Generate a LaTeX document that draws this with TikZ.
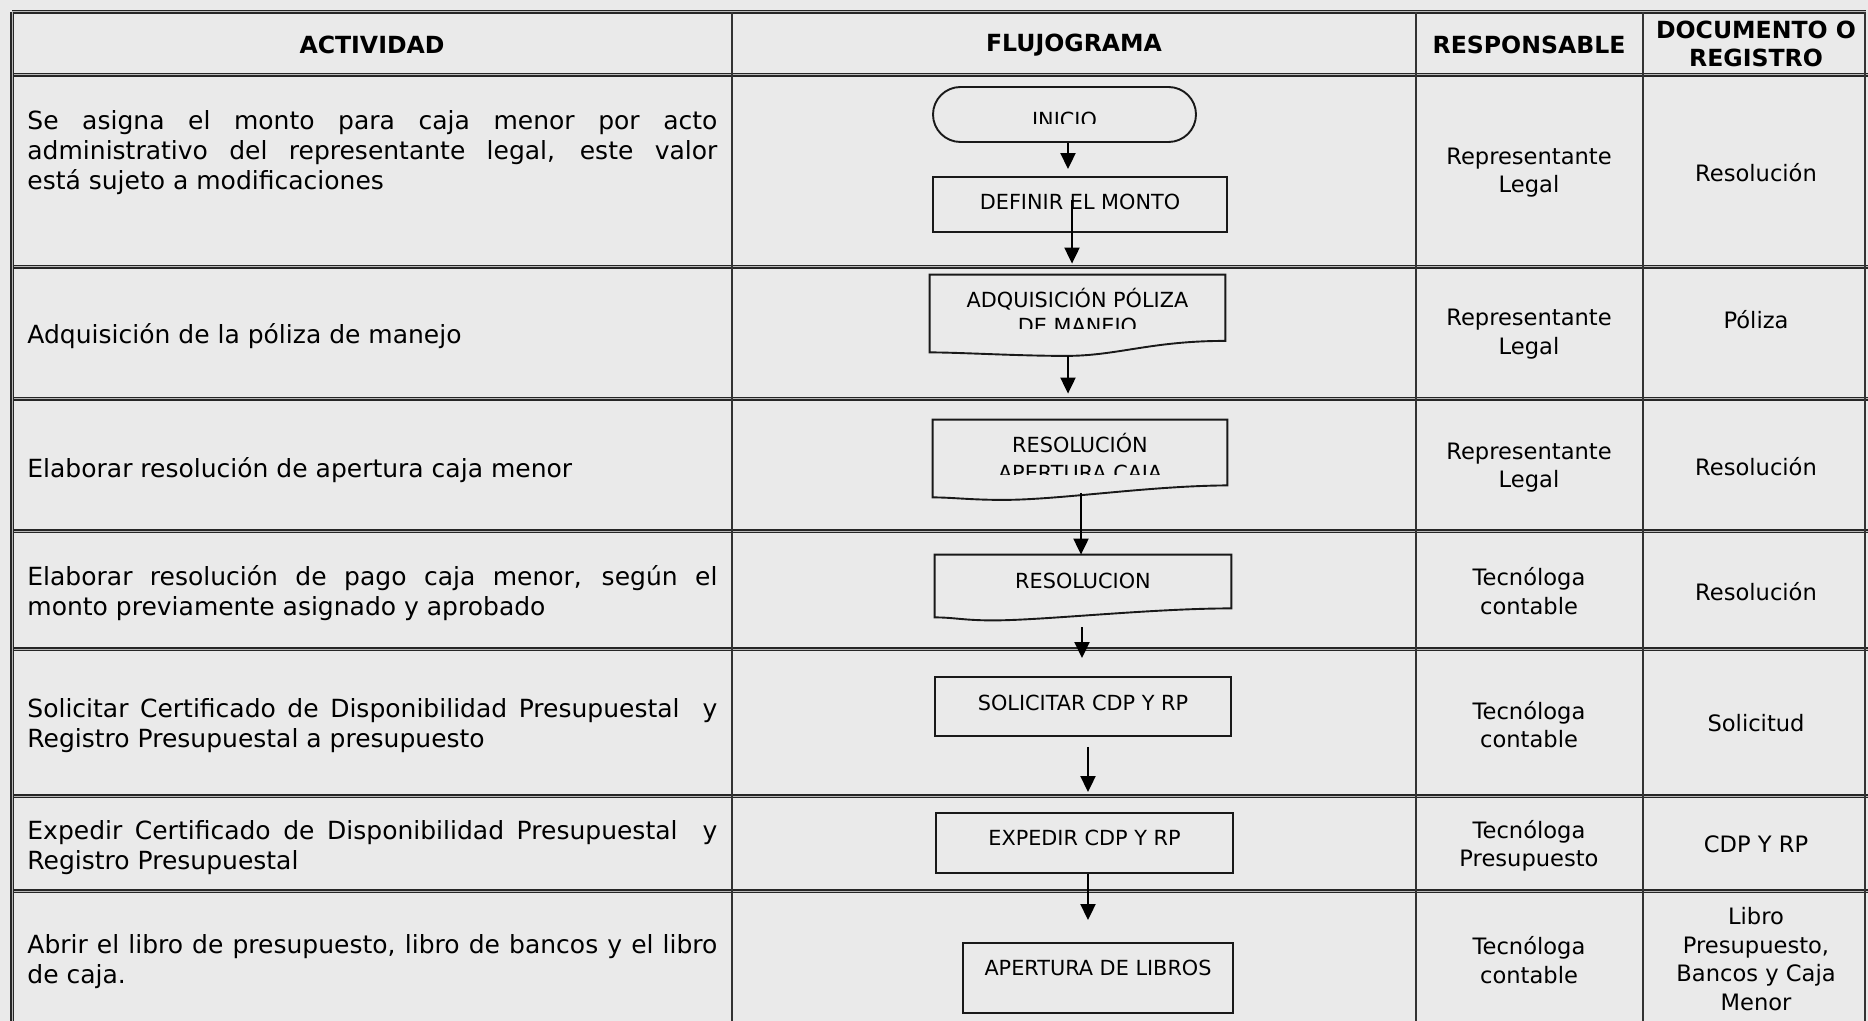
\documentclass[tikz,border=0pt]{standalone}
\usepackage{fontspec}
\setmainfont{DejaVu Sans}
\usetikzlibrary{arrows.meta,calc,shapes.misc}
\definecolor{bgc}{RGB}{234,234,234}
\newcommand\fcActFont{\fontsize{12.5}{15}\selectfont\tolerance=10000\hyphenpenalty=10000\emergencystretch=0pt}
\newcommand\fcRespFont{\fontsize{11.3}{14.25}\selectfont}
\newcommand\fcHeadFont{\bfseries\fontsize{11.8}{14}\selectfont}
\newcommand\fcFlowFont{\fontsize{10.4}{13}\selectfont}
\tikzset{
  hline/.style={draw=black!85, line width=0.6pt, double=gray!55, double distance=0.5pt},
  vline/.style={draw=black!80, line width=0.9pt},
  boxline/.style={draw=black!90, line width=0.95pt},
  flowbox/.style={rectangle, draw=black!90, line width=0.95pt, inner sep=0pt},
  term/.style={rounded rectangle, draw=black!90, line width=0.95pt, inner sep=0pt},
  docarea/.style={rectangle, inner sep=0pt},
  flowtext/.style={inner sep=0pt, font=\fcFlowFont},
  flowbase/.style={inner sep=0pt, font=\fcFlowFont, anchor=base},
  arr/.style={draw=black, line width=1pt, -{Triangle[width=7.5pt,length=8pt]}},
  actcell/.style={anchor=west, inner sep=0pt, text width=345pt, align=justify, font=\fcActFont},
  respcell/.style={inner sep=0pt, align=center, font=\fcRespFont},
  headcell/.style={inner sep=0pt, align=center, font=\fcHeadFont},
}
\begin{document}
\begin{tikzpicture}[x=0.5pt,y=-0.5pt]
\useasboundingbox (0,0) rectangle (1868,1021);
\fill[bgc] (0,0) rectangle (1868,1021);

% table grid
\foreach \yy in {75,267,399,531,649,796,891}{
  \draw[hline] (12,\yy) -- (1868,\yy);
}
\draw[hline] (12,12) -- (1866,12);
\foreach \xx in {732,1416,1643}{
  \draw[vline] (\xx,12) -- (\xx,1021);
}
\draw[vline] (1865,12) -- (1865,1021);
\draw[hline] (12,12) -- (12,1021);

% headers
\node[headcell] (hact) at (372,45) {ACTIVIDAD};
\node[headcell] (hflu) at (1074,45) {FLUJOGRAMA};
\node[headcell] (hres) at (1529,45) {RESPONSABLE};
\node[headcell] (hdoc) at (1756,44) {DOCUMENTO O\\REGISTRO};

% activity column
\node[actcell] (act1) at (27,153) {Se asigna el monto para caja menor por acto\linebreak administrativo del representante legal, este valor\linebreak está sujeto a modificaciones};
\node[actcell] (act2) at (27,336) {Adquisición de la póliza de manejo};
\node[actcell] (act3) at (27,470) {Elaborar resolución de apertura caja menor};
\node[actcell] (act4) at (27,593) {Elaborar resolución de pago caja menor, según el\linebreak monto previamente asignado y aprobado};
\node[actcell] (act5) at (27,726) {Solicitar Certificado de Disponibilidad Presupuestal\ \ y\linebreak Registro Presupuestal a presupuesto};
\node[actcell] (act6) at (27,848) {Expedir Certificado de Disponibilidad Presupuestal\ \ y\linebreak Registro Presupuestal};
\node[actcell] (act7) at (27,962) {Abrir el libro de presupuesto, libro de bancos y el libro\linebreak de caja.};

% responsible column
\node[respcell] (resp1) at (1529,172.5) {Representante\\Legal};
\node[respcell] (resp2) at (1529,334) {Representante\\Legal};
\node[respcell] (resp3) at (1529,467.5) {Representante\\Legal};
\node[respcell] (resp4) at (1529,591) {Tecnóloga\\contable};
\node[respcell] (resp5) at (1529,724.5) {Tecnóloga\\contable};
\node[respcell] (resp6) at (1529,846) {Tecnóloga\\Presupuesto};
\node[respcell] (resp7) at (1529,960) {Tecnóloga\\contable};

% document column
\node[respcell] (doc1) at (1756,172.7) {Resolución};
\node[respcell] (doc2) at (1756,320) {Póliza};
\node[respcell] (doc3) at (1756,466.7) {Resolución};
\node[respcell] (doc4) at (1756,592) {Resolución};
\node[respcell] (doc5) at (1756,723) {Solicitud};
\node[respcell] (doc6) at (1756,844.6) {CDP Y RP};
\node[respcell] (doc7) at (1756,959) {Libro\\Presupuesto,\\Bancos y Caja\\Menor};

% flowchart shapes
\node[term, minimum width=131.5pt, minimum height=27.5pt] (inicio) at (1064.5,114.5) {};
\begin{scope}
  \clip (940,95) rectangle (1190,123.3);
  \node[flowbase] (tinicio) at (1064.5,127.7) {INICIO};
\end{scope}

\node[flowbox, minimum width=147pt, minimum height=27.5pt] (defn) at (1080,204.5) {};
\node[flowtext] (tdefn) at (1080,202) {DEFINIR EL MONTO};

\node[docarea, minimum width=147.5pt, minimum height=40.25pt] (adq) at (1077.5,315.25) {};
\draw[boxline] (adq.north west) -- (adq.north east) -- ($(adq.south east)+(0,-15)$)
  .. controls ($(adq.south east)+(-75,-15)$) and ($(adq.south)+(40,0)$) .. ($(adq.south)+(-11.5,0)$)
  .. controls ($(adq.south)+(-60,0)$) and ($(adq.south west)+(30,-3.5)$) .. ($(adq.south west)+(0,-3.5)$) -- cycle;
\begin{scope}
  \clip (935,280) rectangle (1220,328.6);
  \node[flowbase] (tadq1) at (1077.5,308) {ADQUISICIÓN PÓLIZA};
  \node[flowbase] (tadq2) at (1077.5,333.5) {DE MANEJO};
\end{scope}

\node[docarea, minimum width=147pt, minimum height=39.75pt] (res1) at (1080,459.75) {};
\draw[boxline] (res1.north west) -- (res1.north east) -- ($(res1.south east)+(0,-14.5)$)
  .. controls ($(res1.south east)+(-80,-14)$) and ($(res1.south)+(-20,0)$) .. ($(res1.south)+(-77,0)$)
  .. controls ($(res1.south)+(-110,0)$) and ($(res1.south west)+(20,-2.5)$) .. ($(res1.south west)+(0,-2.5)$) -- cycle;
\begin{scope}
  \clip (938,425) rectangle (1222,474);
  \node[flowbase] (tres1a) at (1080,452.5) {RESOLUCIÓN};
  \node[flowbase] (tres1b) at (1080,480.5) {APERTURA CAJA};
\end{scope}

\node[docarea, minimum width=148pt, minimum height=32.5pt] (res2) at (1083,587.5) {};
\draw[boxline] (res2.north west) -- (res2.north east) -- ($(res2.south east)+(0,-12)$)
  .. controls ($(res2.south east)+(-80,-12)$) and ($(res2.south)+(-40,0)$) .. ($(res2.south)+(-90,0)$)
  .. controls ($(res2.south)+(-120,0)$) and ($(res2.south west)+(20,-3)$) .. ($(res2.south west)+(0,-3)$) -- cycle;
\node[flowtext] (tres2) at (1083,581) {RESOLUCION};

\node[flowbox, minimum width=148pt, minimum height=29.5pt] (sol) at (1083,706.5) {};
\node[flowtext] (tsol) at (1083,703) {SOLICITAR CDP Y RP};

\node[flowbox, minimum width=148.5pt, minimum height=30pt] (exp) at (1084.5,843) {};
\node[flowtext] (texp) at (1084.5,838) {EXPEDIR CDP Y RP};

\node[flowbox, minimum width=135pt, minimum height=35pt] (lib) at (1098,978) {};
\node[flowtext] (tlib) at (1098,968) {APERTURA DE LIBROS};

% connectors
\coordinate (a1s) at ($(inicio.south)+(3.5,0)$);
\draw[arr, shorten >=3.5pt] (a1s) -- (a1s |- defn.north);
\coordinate (a2s) at ($(defn.center)+(-8,-4)$);
\draw[arr, shorten >=5.5pt] (a2s) -- (a2s |- adq.north);
\coordinate (a3s) at ($(adq.south)+(-9.5,0)$);
\draw[arr, shorten >=13pt] (a3s) -- (a3s |- res1.north);
\coordinate (a4s) at ($(res1.south)+(1,-7)$);
\draw[arr] (a4s) -- (a4s |- res2.north);
\coordinate (a5s) at ($(res2.south)+(-1,7)$);
\draw[arr, shorten >=9pt] (a5s) -- (a5s |- sol.north);
\coordinate (a6s) at ($(sol.south)+(5,10)$);
\draw[arr, shorten >=10pt] (a6s) -- (a6s |- exp.north);
\coordinate (a7s) at ($(exp.south)+(3.5,0)$);
\draw[arr, shorten >=11pt] (a7s) -- (a7s |- lib.north);
\end{tikzpicture}
\end{document}
